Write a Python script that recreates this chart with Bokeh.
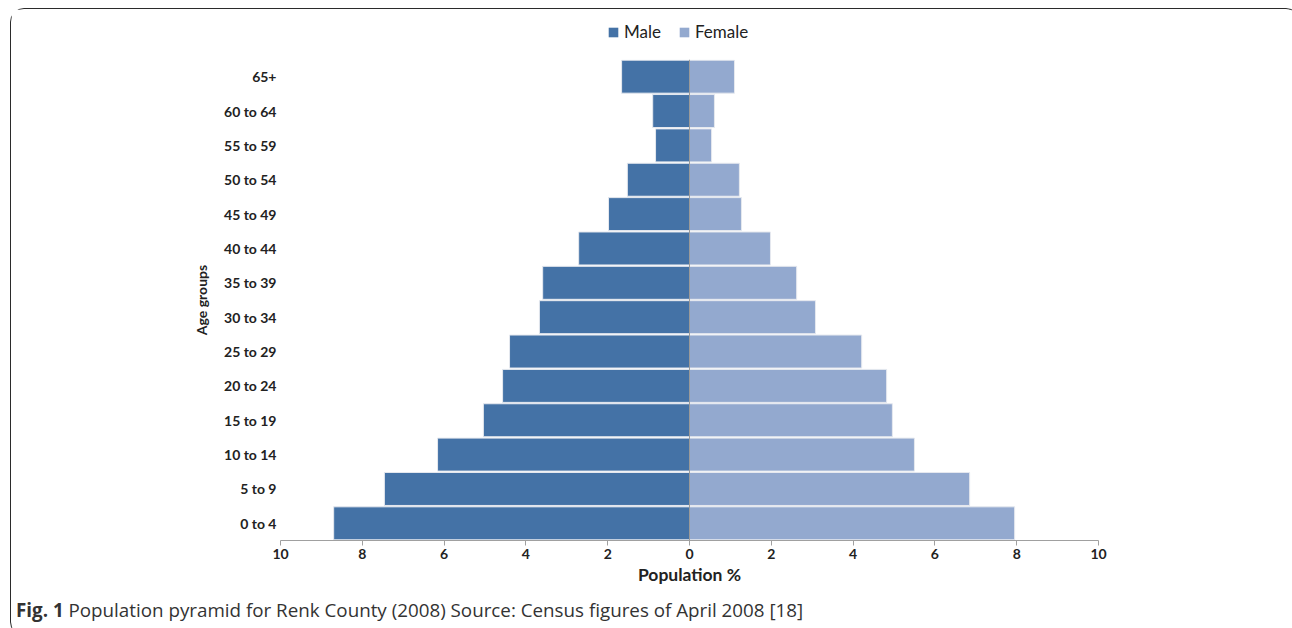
from bokeh.plotting import figure
from bokeh.layouts import column
from bokeh.models import FactorRange, Range1d, FixedTicker, Span, Legend, LegendItem, ColumnDataSource, Div
from bokeh.embed import file_html
from bokeh.resources import INLINE

age_groups = ["0 to 4", "5 to 9", "10 to 14", "15 to 19", "20 to 24", "25 to 29",
              "30 to 34", "35 to 39", "40 to 44", "45 to 49", "50 to 54", "55 to 59",
              "60 to 64", "65+"]
male = [8.70, 7.46, 6.16, 5.04, 4.57, 4.40, 3.67, 3.59, 2.71, 1.98, 1.52, 0.83, 0.90, 1.66]
female = [7.95, 6.85, 5.50, 4.96, 4.82, 4.21, 3.08, 2.62, 1.98, 1.27, 1.22, 0.54, 0.61, 1.10]
x_ticks = [-10, -8, -6, -4, -2, 0, 2, 4, 6, 8, 10]
series_names = ["Male", "Female"]
caption_bold = "Fig. 1"
caption_text = "Population pyramid for Renk County (2008) Source: Census figures of April 2008 [18]"

MALE_C = "#4472A6"
FEMALE_C = "#93A9CF"
FONT = "Lato"
W = 1278

# ---------- legend strip (legend-only, zero-size swatch glyphs) ----------
lg = figure(width=W, height=44, output_backend="svg", toolbar_location=None,
            x_range=Range1d(0, 1), y_range=Range1d(0, 1),
            x_axis_type=None, y_axis_type=None,
            min_border_left=0, min_border_right=0, min_border_top=0, min_border_bottom=0)
lg.outline_line_color = None
lg.xgrid.grid_line_color = None
lg.ygrid.grid_line_color = None
lm = lg.hbar(y=0.5, left=0, right=0, height=0, fill_color=MALE_C, line_color=None)
lf = lg.hbar(y=0.5, left=0, right=0, height=0, fill_color=FEMALE_C, line_color=None)
legend = Legend(items=[LegendItem(label=series_names[0], renderers=[lm]),
                       LegendItem(label=series_names[1], renderers=[lf])],
                location=(327, 11), orientation="horizontal",
                border_line_color=None, background_fill_alpha=0,
                padding=0, margin=0, spacing=17, label_standoff=5,
                glyph_width=12, glyph_height=12,
                label_text_font=FONT, label_text_font_size="17px",
                label_text_color="#222222")
lg.add_layout(legend, "center")

# ---------- main pyramid ----------
src = ColumnDataSource(dict(age=age_groups, male_neg=[-v for v in male], female=female))

p = figure(frame_width=818, frame_height=481, output_backend="svg", toolbar_location=None,
           y_range=FactorRange(factors=age_groups, range_padding=0),
           x_range=Range1d(-10, 10),
           min_border_left=269, min_border_right=191, min_border_top=6, min_border_bottom=55)
p.outline_line_color = None
p.xgrid.grid_line_color = None
p.ygrid.grid_line_color = None

p.hbar(y="age", left="male_neg", right=0, height=0.96, source=src,
       fill_color=MALE_C, line_color="#e6e9ef", line_width=1)
p.hbar(y="age", left=0, right="female", height=0.96, source=src,
       fill_color=FEMALE_C, line_color="#e6e9ef", line_width=1)

p.add_layout(Span(location=0, dimension="height", line_color="#9a9a9a", line_width=1))

xa = p.xaxis[0]
xa.ticker = FixedTicker(ticks=x_ticks)
xa.major_label_overrides = {t: str(abs(t)) for t in x_ticks}
xa.minor_tick_line_color = None
xa.axis_line_color = "#a0a0a0"
xa.major_tick_line_color = "#a0a0a0"
xa.major_tick_out = 5
xa.major_tick_in = 0
xa.major_label_text_font = FONT
xa.major_label_text_font_style = "bold"
xa.major_label_text_font_size = "14px"
xa.major_label_text_color = "#222222"
xa.major_label_standoff = 3
xa.axis_label = "Population %"
xa.axis_label_text_font = FONT
xa.axis_label_text_font_style = "bold"
xa.axis_label_text_font_size = "17.5px"
xa.axis_label_text_color = "#222222"
xa.axis_label_standoff = 2

ya = p.yaxis[0]
ya.axis_line_color = None
ya.major_tick_line_color = None
ya.minor_tick_line_color = None
ya.major_tick_out = 0
ya.major_tick_in = 0
ya.major_label_text_font = FONT
ya.major_label_text_font_style = "bold"
ya.major_label_text_font_size = "14px"
ya.major_label_text_color = "#222222"
ya.major_label_standoff = 4
ya.axis_label = "Age groups"
ya.axis_label_text_font = FONT
ya.axis_label_text_font_style = "bold"
ya.axis_label_text_font_size = "14px"
ya.axis_label_text_color = "#222222"
ya.axis_label_standoff = 11

# ---------- caption ----------
cap = Div(text=f"<b>{caption_bold}</b> {caption_text}", width=W, height=30,
          styles={"font-family": "'Open Sans'", "font-size": "18.8px", "color": "#333333",
                  "padding-left": "0px", "line-height": "20px", "white-space": "nowrap"})

layout = column(lg, p, cap, spacing=0,
                styles={"border": "1.5px solid #2b2b2b", "border-radius": "14px",
                        "margin-left": "10px", "margin-top": "8px"})

open("out.html", "w").write(file_html(layout, INLINE))
